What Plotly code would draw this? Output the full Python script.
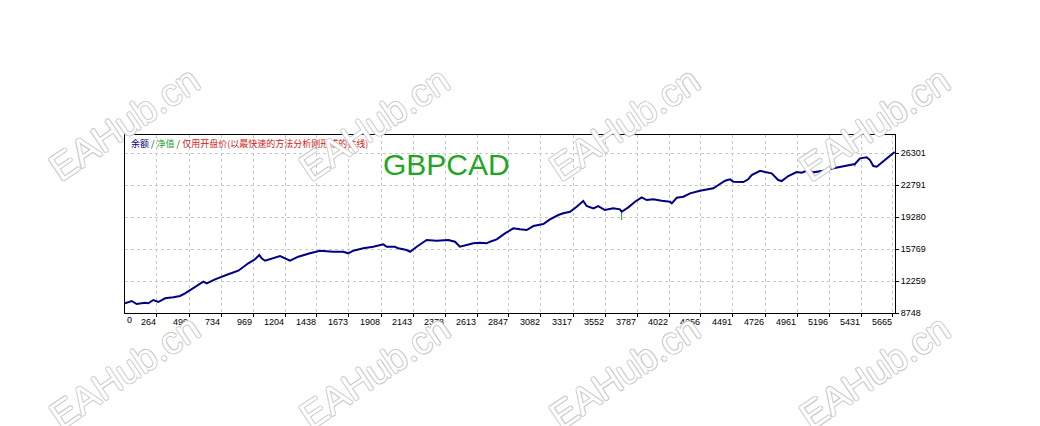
import plotly.graph_objects as go

# balance curve (trade number, balance)
trade_no = [29, 78, 115, 176, 200, 237, 274, 323, 384, 433, 470, 543, 604, 629, 690,
            787, 861, 934, 983, 1015, 1032, 1057, 1093, 1167, 1240, 1301, 1387, 1460,
            1558, 1631, 1668, 1704, 1778, 1851, 1925, 1950, 2010, 2035, 2096, 2121,
            2170, 2243, 2316, 2402, 2451, 2487, 2537, 2585, 2634, 2683, 2708, 2757,
            2818, 2879, 2928, 2977, 3026, 3099, 3148, 3209, 3246, 3295, 3344, 3392,
            3417, 3466, 3502, 3551, 3612, 3662, 3674, 3723, 3772, 3821, 3858, 3906,
            3968, 4029, 4042, 4078, 4127, 4176, 4249, 4298, 4347, 4384, 4433, 4470,
            4494, 4567, 4603, 4628, 4690, 4726, 4775, 4823, 4848, 4897, 4958, 4995,
            5044, 5080, 5153, 5227, 5300, 5386, 5423, 5472, 5496, 5521, 5546, 5582,
            5619, 5667, 5677]
balance = [9812, 10064, 9735, 9878, 9812, 10174, 9955, 10361, 10470, 10613, 10909,
           11633, 12182, 12006, 12445, 12993, 13388, 14200, 14639, 15111, 14749, 14485,
           14639, 15001, 14485, 14924, 15297, 15582, 15473, 15473, 15297, 15582, 15846,
           16021, 16284, 16021, 16021, 15846, 15659, 15473, 16021, 16756, 16679, 16756,
           16570, 16021, 16208, 16394, 16460, 16394, 16570, 16833, 17491, 18040, 17930,
           17853, 18292, 18511, 19027, 19499, 19685, 19861, 20409, 21034, 20486, 20234,
           20486, 20047, 20234, 20124, 19861, 20343, 20957, 21440, 21144, 21221, 21067,
           20957, 20782, 21396, 21506, 21879, 22164, 22318, 22427, 22790, 23261, 23415,
           23152, 23119, 23415, 23887, 24358, 24216, 24073, 23339, 23228, 23777, 24216,
           24139, 24435, 24183, 24358, 24622, 24874, 25094, 25719, 25829, 25532, 24874,
           24797, 25236, 25719, 26333, 26410]

# equity dips that show from under the balance line
equity_x = [3674, 3674, None, 5386, 5386]
equity_y = [19861, 18950, None, 25094, 24800]

x_ticks = [264, 499, 734, 969, 1204, 1438, 1673, 1908, 2143, 2378, 2613, 2847, 3082,
           3317, 3552, 3787, 4022, 4256, 4491, 4726, 4961, 5196, 5431, 5665]
y_ticks = [8748, 12259, 15769, 19280, 22791, 26301]

fig = go.Figure()
fig.add_trace(go.Scatter(x=equity_x, y=equity_y, mode="lines",
                         line=dict(color="#20a020", width=1), hoverinfo="skip"))
fig.add_trace(go.Scatter(x=trade_no, y=balance, mode="lines",
                         line=dict(color="#000080", width=2)))

axis_common = dict(
    showline=True, linecolor="black", linewidth=1, mirror=True,
    showgrid=True, gridcolor="#c8c8c8", griddash="3px,3px", gridwidth=1,
    ticks="outside", ticklen=3, tickcolor="black", zeroline=False,
    tickfont=dict(family="Liberation Sans, Arial", size=9, color="black"),
)
fig.update_xaxes(range=[29.2, 5680], tickvals=x_ticks, ticktext=[str(v) for v in x_ticks],
                 ticklabelposition="outside left", **axis_common)
fig.update_yaxes(range=[8748, 28280], tickvals=y_ticks, ticktext=[str(v) for v in y_ticks],
                 side="right", **axis_common)

# legend line inside the chart, top left
legend_parts = [("余额", "#000080"), (" / ", "#333333"), ("净值", "#20a020"),
                (" / ", "#333333"), ("仅用开盘价(以最快速的方法分析刚形成的柱线)", "#d02020")]
legend_html = "".join(f"<span style='color:{c}'>{t}</span>" for t, c in legend_parts)
fig.add_annotation(text=legend_html, xref="paper", yref="paper", x=0.005, y=0.95,
                   xanchor="left", yanchor="middle", showarrow=False,
                   font=dict(family="Noto Sans CJK SC", size=9))
fig.add_annotation(text="GBPCAD", xref="paper", yref="paper", x=0.418, y=0.837,
                   xanchor="center", yanchor="middle", showarrow=False,
                   font=dict(family="Liberation Sans, Arial", size=30, color="#1fa71f"))
fig.add_annotation(text="0", xref="paper", yref="paper", x=0.0, y=-0.04,
                   xanchor="left", yanchor="middle", showarrow=False,
                   font=dict(family="Liberation Sans, Arial", size=9, color="black"))

# EAHub.cn watermarks
outline = "1px 0 #c4c4c4, -1px 0 #c4c4c4, 0 1px #c4c4c4, 0 -1px #c4c4c4"
for wx in [-0.001, 0.324, 0.649, 0.974]:
    for wy in [1.06, -0.33]:
        fig.add_annotation(text="EAHub.cn", xref="paper", yref="paper", x=wx, y=wy,
                           xanchor="center", yanchor="middle", showarrow=False,
                           textangle=-34,
                           font=dict(family="Liberation Sans, Arial", size=38,
                                     color="white", shadow=outline))

# page body adds ~8px margin, so the figure is 8px smaller on each side
fig.update_layout(
    width=1032, height=418,
    margin=dict(l=117, r=145, t=127, b=113),
    paper_bgcolor="white", plot_bgcolor="white",
    showlegend=False,
)
fig.write_html("out.html")
